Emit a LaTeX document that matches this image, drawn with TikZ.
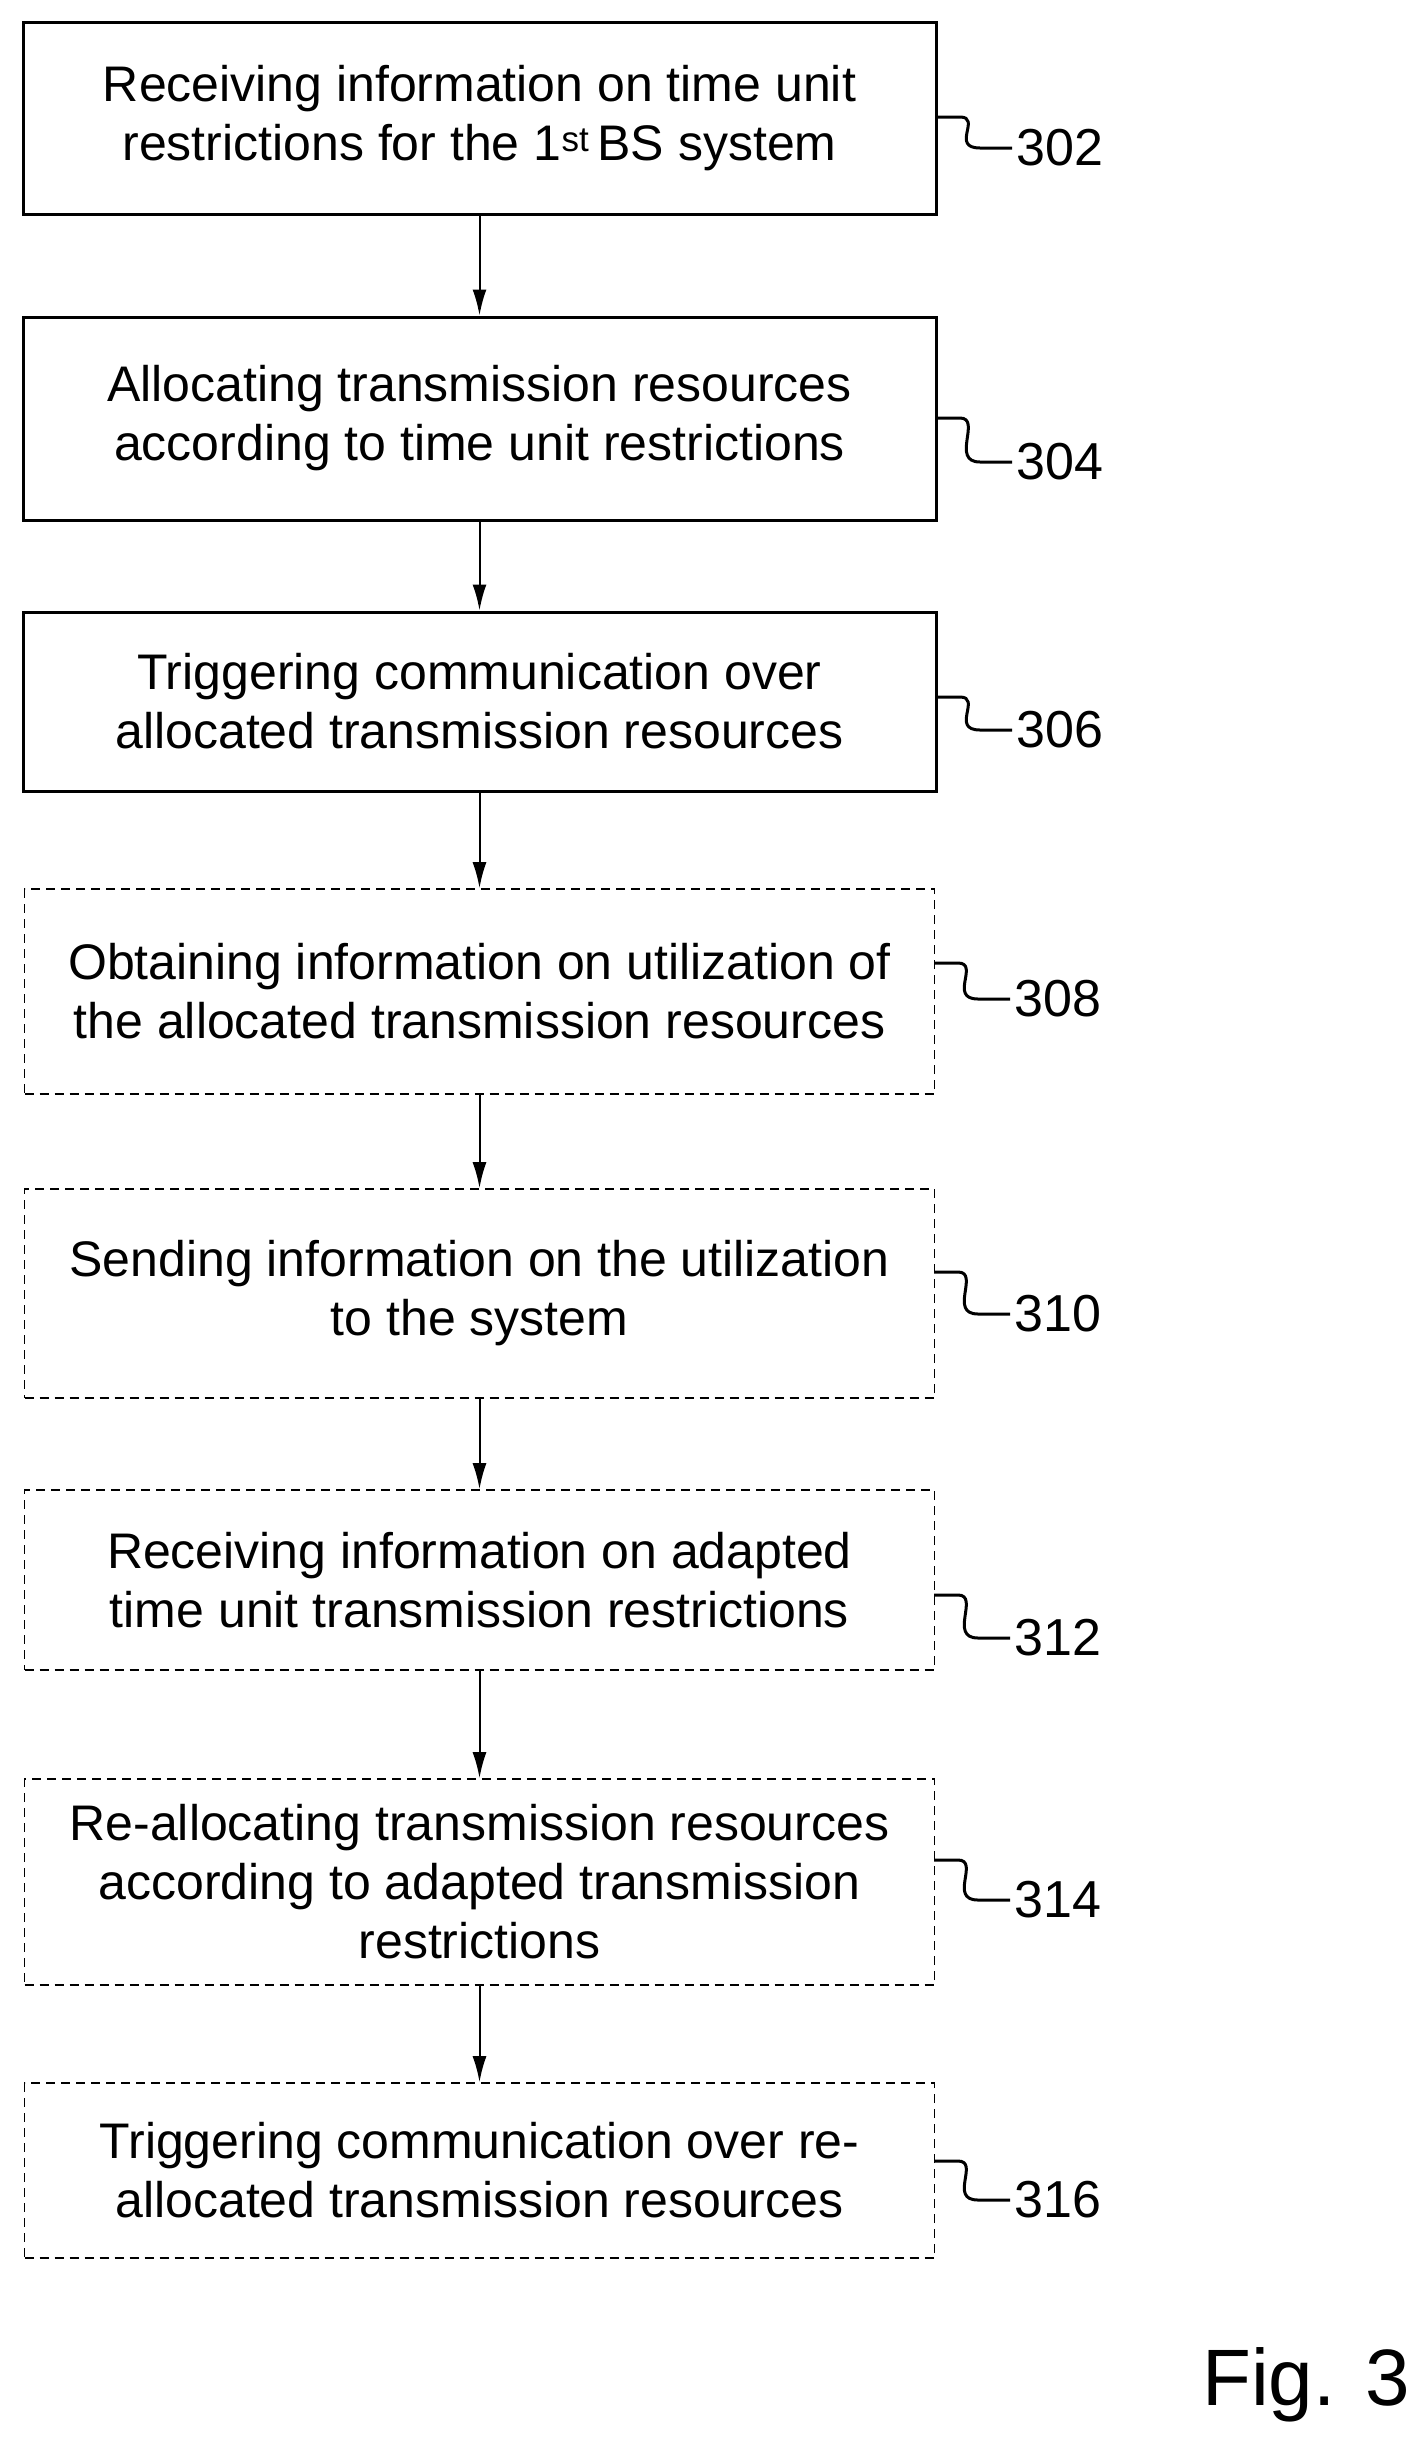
\documentclass[tikz,border=0pt]{standalone}
\usepackage{fontspec}
\setmainfont{Liberation Sans}
\usetikzlibrary{arrows.meta}
\begin{document}
\begin{tikzpicture}[x=1pt,y=-1pt,
  box/.style={draw,line width=3pt,minimum width=913pt,align=center,inner sep=0pt,font=\fontsize{50}{59}\selectfont},
  dbox/.style={box,line width=1.6pt,minimum width=910pt,dash pattern=on 9pt off 6pt},
  arr/.style={-{Latex[length=26pt,width=14pt]},line width=2pt},
  sq/.style={line width=3pt},
  lab/.style={anchor=west,font=\fontsize{52}{56}\selectfont,inner sep=0pt}]
\useasboundingbox (0,0) rectangle (1420,2455);
\node[box,minimum height=192pt] (b1) at (479.5,118) {Receiving information on time unit\\restrictions for the 1\textsuperscript{st}\,BS system};
\node[box,minimum height=203pt] (b2) at (479.5,418.5) {Allocating transmission resources\\according to time unit restrictions};
\node[box,minimum height=179pt] (b3) at (479.5,701.5) {Triggering communication over\\allocated transmission resources};
\node[dbox,minimum height=205pt] (b4) at (479.5,991.5) {Obtaining information on utilization of\\the allocated transmission resources};
\node[dbox,minimum height=209pt] (b5) at (479.5,1293.5) {Sending information on the utilization\\to the system};
\node[dbox,minimum height=180pt] (b6) at (479.5,1580) {Receiving information on adapted\\time unit transmission restrictions};
\node[dbox,minimum height=206pt] (b7) at (479.5,1882) {Re-allocating transmission resources\\according to adapted transmission\\restrictions};
\node[dbox,minimum height=175pt] (b8) at (479.5,2170.5) {Triggering communication over re-\\allocated transmission resources};
\foreach \a/\b in {b1/b2,b2/b3,b3/b4,b4/b5,b5/b6,b6/b7,b7/b8}
  \draw[arr] (\a.south) -- (\b.north);
\foreach \n/\x/\ys/\yl/\t in {l1/936/117/148/302,l2/936/418/462/304,l3/936/697/730/306,l4/934/963/999/308,l5/934/1272/1314/310,l6/934/1595/1638/312,l7/934/1860/1900/314,l8/934/2161/2200/316}{
  \coordinate (s\n) at (\x,\ys);
  \node[lab] (\n) at (\x+80,\yl) {\t};
  \draw[sq] (s\n) -- ++(24,0) .. controls ++(22,0) and (\x+14,\yl) .. (\x+44,\yl) -- ([xshift=-4pt]\n.west);
}
\node[font=\fontsize{80}{90}\selectfont] (fig) at (1306,2385) {Fig. 3};
\end{tikzpicture}
\end{document}
